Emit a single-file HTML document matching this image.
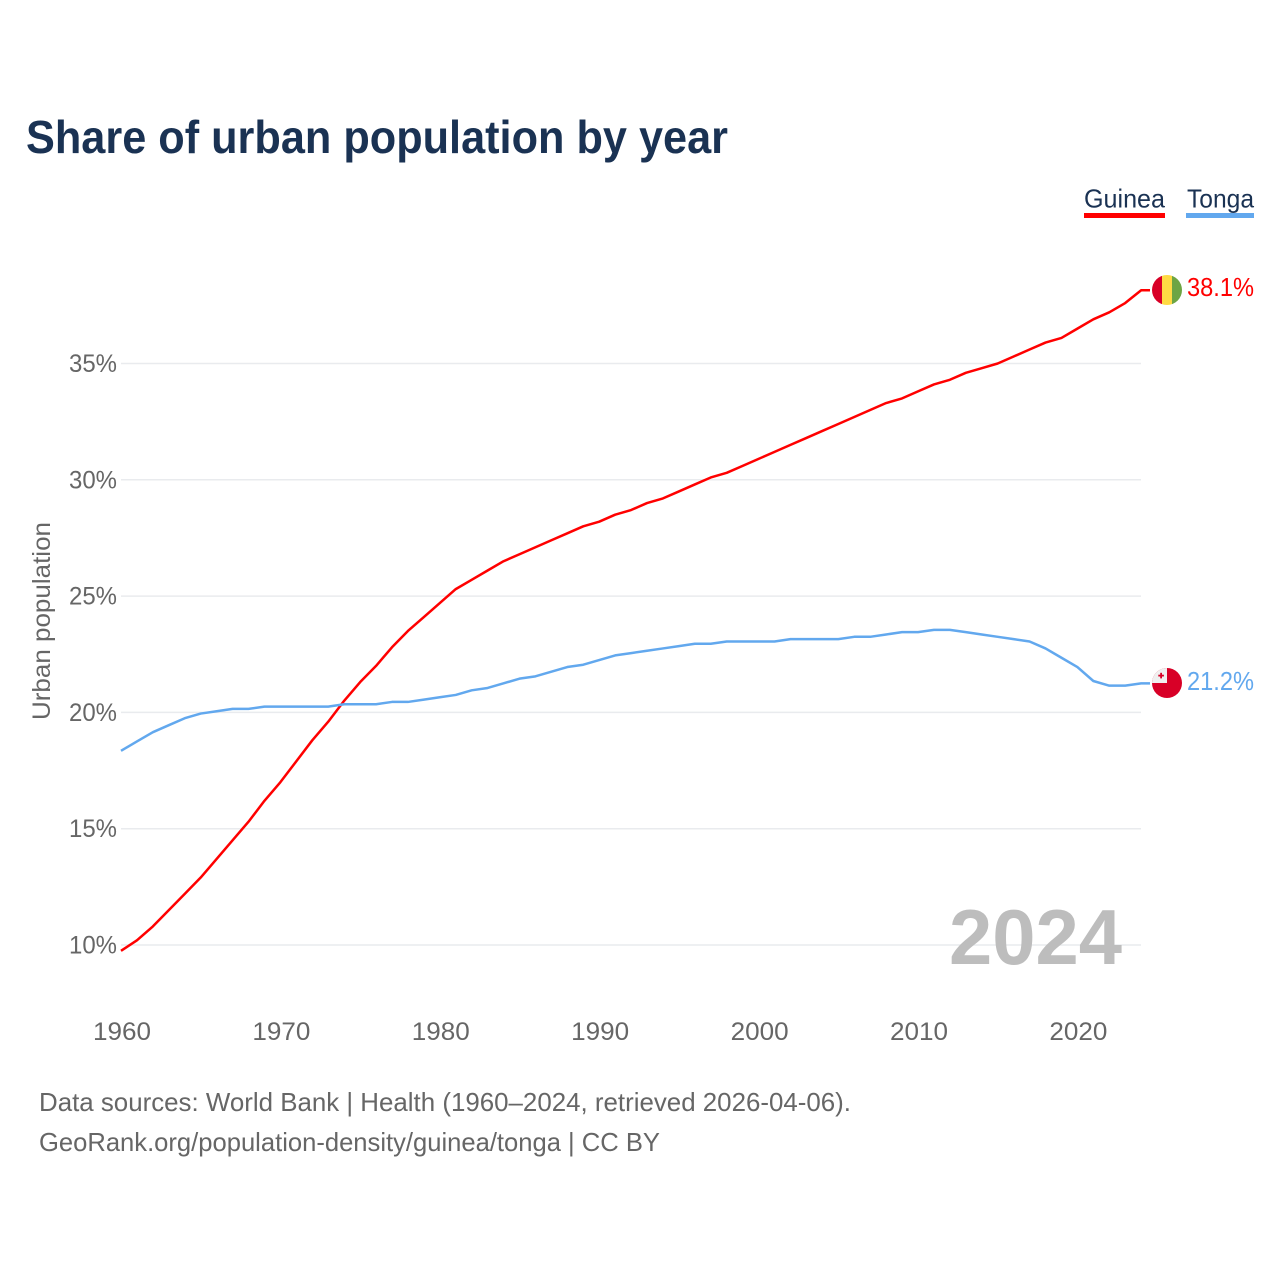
<!DOCTYPE html>
<html lang="en">
<head>
<meta charset="utf-8">
<title>Share of urban population by year</title>
<style>
html,body{margin:0;padding:0;background:#fff;width:1280px;height:1280px;overflow:hidden}
svg{display:block;font-family:"Liberation Sans",sans-serif}
</style>
</head>
<body>
<svg id="chart" width="1280" height="1280" viewBox="0 0 1280 1280">
  <text x="26" y="153" font-size="46" font-weight="700" fill="#1a3253" textLength="702" lengthAdjust="spacingAndGlyphs">Share of urban population by year</text>

  <g id="grid"></g>
  <g id="yticks"></g>
  <g id="xticks"></g>

  <text transform="translate(50,621) rotate(-90)" text-anchor="middle" font-size="25" fill="#666666" textLength="198" lengthAdjust="spacingAndGlyphs">Urban population</text>

  <text x="1122" y="964" text-anchor="end" font-size="78" font-weight="700" fill="#bdbdbd" textLength="173" lengthAdjust="spacingAndGlyphs">2024</text>

  <g id="series"></g>

  <g>
    <text x="1084" y="207.5" font-size="26" fill="#1a3253" textLength="81" lengthAdjust="spacingAndGlyphs">Guinea</text>
    <rect x="1084" y="213" width="81" height="5" fill="#ff0000"></rect>
  </g>
  <g>
    <text x="1187" y="207.5" font-size="26" fill="#1a3253" textLength="67" lengthAdjust="spacingAndGlyphs">Tonga</text>
    <rect x="1186" y="213" width="68" height="5" fill="#62a8ee"></rect>
  </g>

  <defs>
    <clipPath id="flag-clip-guinea"><circle cx="1167" cy="290" r="15"></circle></clipPath>
    <clipPath id="flag-clip-tonga"><circle cx="1167" cy="683" r="15"></circle></clipPath>
  </defs>
  <g clip-path="url(#flag-clip-guinea)">
    <rect x="1152" y="275" width="10" height="30" fill="#d80027"></rect>
    <rect x="1162" y="275" width="10" height="30" fill="#ffda44"></rect>
    <rect x="1172" y="275" width="10" height="30" fill="#6da544"></rect>
  </g>
  <g clip-path="url(#flag-clip-tonga)">
    <rect x="1152" y="668" width="30" height="30" fill="#d80027"></rect>
    <rect x="1152" y="668" width="15" height="15" fill="#f0f0f0"></rect>
    <rect x="1160.2" y="672.8" width="1.8" height="5.6" fill="#d80027"></rect>
    <rect x="1158.3" y="674.7" width="5.6" height="1.8" fill="#d80027"></rect>
  </g>

  <text x="1187" y="296" font-size="26" fill="#ff0000" textLength="67" lengthAdjust="spacingAndGlyphs">38.1%</text>
  <text x="1187" y="690" font-size="26" fill="#62a8ee" textLength="67" lengthAdjust="spacingAndGlyphs">21.2%</text>

  <text x="39" y="1111" font-size="26" fill="#666666" textLength="812" lengthAdjust="spacingAndGlyphs">Data sources: World Bank | Health (1960–2024, retrieved 2026-04-06).</text>
  <text x="39" y="1151" font-size="26" fill="#666666" textLength="621" lengthAdjust="spacingAndGlyphs">GeoRank.org/population-density/guinea/tonga | CC BY</text>
</svg>
<script>
const startYear = 1960;
const yTickValues = [10, 15, 20, 25, 30, 35];
const xTickValues = [1960, 1970, 1980, 1990, 2000, 2010, 2020];
const guineaValues = [9.75,10.2,10.8,11.5,12.2,12.9,13.7,14.5,15.3,16.2,17.0,17.9,18.8,19.6,20.5,21.3,22.0,22.8,23.5,24.1,24.7,25.3,25.7,26.1,26.5,26.8,27.1,27.4,27.7,28.0,28.2,28.5,28.7,29.0,29.2,29.5,29.8,30.1,30.3,30.6,30.9,31.2,31.5,31.8,32.1,32.4,32.7,33.0,33.3,33.5,33.8,34.1,34.3,34.6,34.8,35.0,35.3,35.6,35.9,36.1,36.5,36.9,37.2,37.6,38.15];
const tongaValues = [18.35,18.75,19.15,19.45,19.75,19.95,20.05,20.15,20.15,20.25,20.25,20.25,20.25,20.25,20.35,20.35,20.35,20.45,20.45,20.55,20.65,20.75,20.95,21.05,21.25,21.45,21.55,21.75,21.95,22.05,22.25,22.45,22.55,22.65,22.75,22.85,22.95,22.95,23.05,23.05,23.05,23.05,23.15,23.15,23.15,23.15,23.25,23.25,23.35,23.45,23.45,23.55,23.55,23.45,23.35,23.25,23.15,23.05,22.75,22.35,21.95,21.35,21.15,21.15,21.25];

const NS = 'http://www.w3.org/2000/svg';
const xScale = function (year) { return 121 + (year - 1960) * 15.94; };
const yScale = function (value) { return 945 - (value - 10) * 23.26; };
const gridGroup = document.getElementById('grid');
const yTickGroup = document.getElementById('yticks');
const xTickGroup = document.getElementById('xticks');
const seriesGroup = document.getElementById('series');

yTickValues.forEach(function (value) {
  const line = document.createElementNS(NS, 'line');
  
  
  line.setAttribute('x1', 121);
  line.setAttribute('x2', 1141);
  line.setAttribute('y1', yScale(value));
  line.setAttribute('y2', yScale(value));
  line.setAttribute('stroke', '#e9ebee');
  line.setAttribute('stroke-width', 1.5);
  gridGroup.appendChild(line);

  const label = document.createElementNS(NS, 'text');
  
  
  label.setAttribute('x', 117);
  label.setAttribute('y', yScale(value) + 8.5);
  label.setAttribute('text-anchor', 'end');
  label.setAttribute('font-size', 25);
  label.setAttribute('fill', '#666666');
  label.setAttribute('textLength', 48);
  label.setAttribute('lengthAdjust', 'spacingAndGlyphs');
  label.textContent = value + '%';
  yTickGroup.appendChild(label);
});

xTickValues.forEach(function (year) {
  const label = document.createElementNS(NS, 'text');
  
  
  label.setAttribute('x', xScale(year) + 1);
  label.setAttribute('y', 1040);
  label.setAttribute('text-anchor', 'middle');
  label.setAttribute('font-size', 25);
  label.setAttribute('fill', '#666666');
  label.setAttribute('textLength', 58);
  label.setAttribute('lengthAdjust', 'spacingAndGlyphs');
  label.textContent = year;
  xTickGroup.appendChild(label);
});

function buildPoints(values) {
  const points = values.map(function (value, index) {
    return xScale(startYear + index).toFixed(2) + ',' + yScale(value).toFixed(2);
  });
  points.push('1150,' + yScale(values[values.length - 1]).toFixed(2));
  return points.join(' ');
}

const guineaLine = document.createElementNS(NS, 'polyline');


guineaLine.setAttribute('points', buildPoints(guineaValues));
guineaLine.setAttribute('fill', 'none');
guineaLine.setAttribute('stroke', '#ff0000');
guineaLine.setAttribute('stroke-width', 2.5);
guineaLine.setAttribute('stroke-linejoin', 'round');
seriesGroup.appendChild(guineaLine);

const tongaLine = document.createElementNS(NS, 'polyline');


tongaLine.setAttribute('points', buildPoints(tongaValues));
tongaLine.setAttribute('fill', 'none');
tongaLine.setAttribute('stroke', '#62a8ee');
tongaLine.setAttribute('stroke-width', 2.5);
tongaLine.setAttribute('stroke-linejoin', 'round');
seriesGroup.appendChild(tongaLine);
</script>
</body>
</html>
